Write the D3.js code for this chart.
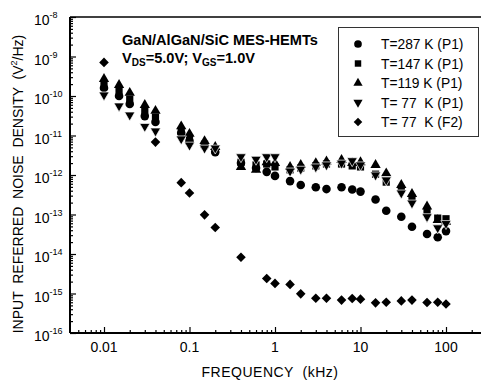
<!DOCTYPE html>
<html>
<head>
<meta charset="utf-8">
<script src="https://cdn.jsdelivr.net/npm/d3@7"></script>
<style>
  html, body { margin: 0; padding: 0; background: #fff; }
  svg { display: block; }
  text { font-family: "Liberation Sans", Arial, sans-serif; fill: #000; }
</style>
</head>
<body>
<svg id="chart" width="481" height="380"></svg>
<script>
// Frequencies (kHz) of the P1 measurements
const freqP1 = [0.01, 0.015, 0.02, 0.03, 0.04, 0.08, 0.1, 0.15, 0.2, 0.4, 0.6, 0.8, 1, 1.5, 2, 3, 4, 6, 8, 10, 15, 20, 30, 40, 60, 80, 100];
// Frequencies (kHz) of the F2 measurements
const freqF2 = [0.01, 0.04, 0.08, 0.1, 0.15, 0.2, 0.4, 0.8, 1, 1.5, 2, 3, 4, 6, 8, 10, 15, 20, 30, 40, 60, 80, 100];

// Input referred noise density (V^2/Hz)
const t287P1 = [1.6e-10, 1.0e-10, 6.3e-11, 3.1e-11, 2.2e-11, 1.15e-11, 7.2e-12, 5.4e-12, 3.8e-12, 2.0e-12, 1.5e-12, 1.2e-12, 9.5e-13, 7.0e-13, 5.6e-13, 4.9e-13, 4.4e-13, 4.9e-13, 4.3e-13, 3.8e-13, 2.4e-13, 1.25e-13, 8.8e-14, 4.9e-14, 3.2e-14, 2.65e-14, 3.8e-14];
const t147P1 = [2.0e-10, 1.35e-10, 8.3e-11, 4.2e-11, 2.9e-11, 1.3e-11, 8.7e-12, 6.0e-12, 4.1e-12, 2.1e-12, 1.8e-12, 1.9e-12, 1.6e-12, 1.35e-12, 1.5e-12, 1.7e-12, 1.9e-12, 1.9e-12, 1.7e-12, 1.6e-12, 1.05e-12, 6.6e-13, 4.4e-13, 2.6e-13, 1.15e-13, 8.1e-14, 7.8e-14];
const t119P1 = [2.7e-10, 1.9e-10, 1.2e-10, 5.9e-11, 4.2e-11, 1.7e-11, 1.1e-11, 7.2e-12, 5.1e-12, 1.6e-12, 1.35e-12, 2.1e-12, 2.0e-12, 1.6e-12, 1.8e-12, 2.0e-12, 2.2e-12, 2.4e-12, 2.0e-12, 2.1e-12, 1.8e-12, 1.1e-12, 5.6e-13, 3.3e-13, 1.6e-13, 7.2e-14, 6.5e-14];
const t77P1 = [1.06e-10, 5.6e-11, 3.3e-11, 1.7e-11, 1.3e-11, 8.2e-12, 5.7e-12, 4.8e-12, 4.8e-12, 2.9e-12, 2.5e-12, 2.9e-12, 2.9e-12, 1.26e-12, 1.4e-12, 1.6e-12, 1.8e-12, 2.0e-12, 2.3e-12, 1.8e-12, 1.0e-12, 7.5e-13, 3.5e-13, 1.95e-13, 8.8e-14, 4.6e-14, 5.9e-14];
const t77F2 = [7.1e-10, 6.8e-12, 6.4e-13, 3.5e-13, 9.8e-14, 4.7e-14, 8.3e-15, 2.4e-15, 1.8e-15, 1.7e-15, 9.8e-16, 7.6e-16, 7.6e-16, 6.8e-16, 7.5e-16, 7.2e-16, 5.8e-16, 6.0e-16, 6.5e-16, 6.8e-16, 5.9e-16, 6.0e-16, 5.4e-16];

const seriesNames = ["T=287 K (P1)", "T=147 K (P1)", "T=119 K (P1)", "T= 77  K (P1)", "T= 77  K (F2)"];

// Axis tick labels
const xTickValues = [0.01, 0.1, 1, 10, 100];
const xTickLabels = ["0.01", "0.1", "1", "10", "100"];
const yTickExponents = ["-8", "-9", "-10", "-11", "-12", "-13", "-14", "-15", "-16"];

const svg = d3.select("#chart");
const plotLeft = 70, plotRight = 481, plotTop = 17, plotBottom = 333;

const x = d3.scaleLog().domain([0.01, 100]).range([104, 446]);
const y = d3.scaleLog().domain([1e-8, 1e-16]).range([plotTop, plotBottom]);

// minor tick values
const xMinor = [];
for (let e = -3; e <= 2; e++) for (let m = 2; m <= 9; m++) {
  const v = m * Math.pow(10, e);
  if (x(v) > plotLeft + 1 && x(v) < plotRight) xMinor.push(v);
}
const yMajor = yTickExponents.map(e => Math.pow(10, +e));
const yMinor = [];
for (let e = -16; e < -8; e++) for (let m = 2; m <= 9; m++) yMinor.push(m * Math.pow(10, e));

// axes: ticks point into the plot
const gx = svg.append("g").attr("transform", `translate(0,${plotBottom})`);
gx.append("g").call(d3.axisBottom(x).tickValues(xMinor).tickSize(-3).tickFormat(""));
gx.append("g").call(d3.axisBottom(x).tickValues(xTickValues).tickSize(-6).tickFormat(""));
gx.selectAll(".domain").remove();
gx.selectAll("line").attr("stroke", "#000").attr("stroke-width", 1.2);

const gy = svg.append("g").attr("transform", `translate(${plotLeft},0)`);
gy.append("g").call(d3.axisLeft(y).tickValues(yMinor).tickSize(-3).tickFormat(""));
gy.append("g").call(d3.axisLeft(y).tickValues(yMajor).tickSize(-6).tickFormat(""));
gy.selectAll(".domain").remove();
gy.selectAll("line").attr("stroke", "#000").attr("stroke-width", 1.2);

// frame lines
svg.append("line").attr("x1", plotLeft).attr("x2", plotRight).attr("y1", plotBottom).attr("y2", plotBottom).attr("stroke", "#000").attr("stroke-width", 2);
svg.append("line").attr("x1", plotLeft).attr("x2", plotLeft).attr("y1", plotTop).attr("y2", plotBottom).attr("stroke", "#000").attr("stroke-width", 2);
svg.append("line").attr("x1", plotLeft).attr("x2", plotRight).attr("y1", plotTop).attr("y2", plotTop).attr("stroke", "#000").attr("stroke-width", 1.6);

// x tick labels
svg.selectAll(".xlab").data(xTickValues).join("text")
  .attr("x", d => x(d)).attr("y", 352)
  .attr("text-anchor", "middle").attr("font-size", 14)
  .text((d, i) => xTickLabels[i]);

// y tick labels: 10 with superscript exponent
const yl = svg.selectAll(".ylab").data(yMajor).join("text")
  .attr("x", 34).attr("y", d => y(d) + 8)
  .attr("font-size", 14);
yl.append("tspan").text("10");
yl.append("tspan").attr("font-size", 9).attr("dy", -7).text((d, i) => yTickExponents[i]);

// axis titles
svg.append("text").attr("x", 270).attr("y", 377).attr("text-anchor", "middle")
  .attr("font-size", 14).attr("letter-spacing", 0.5).style("white-space", "pre").text("FREQUENCY  (kHz)");
const yt = svg.append("text").attr("transform", "translate(23,184) rotate(-90)")
  .attr("text-anchor", "middle").attr("font-size", 14).style("white-space", "pre");
yt.append("tspan").text("INPUT  REFERRED  NOISE  DENSITY  (V");
yt.append("tspan").attr("font-size", 9).attr("dy", -6).text("2");
yt.append("tspan").attr("dy", 6).text("/Hz)");

// device annotation
svg.append("text").attr("x", 122).attr("y", 45).attr("font-size", 14.6).attr("font-weight", "bold")
  .text("GaN/AlGaN/SiC MES-HEMTs");
const cond = svg.append("text").attr("x", 122).attr("y", 63).attr("font-size", 14.6).attr("font-weight", "bold");
cond.append("tspan").text("V");
cond.append("tspan").attr("font-size", 10).attr("dy", 3).text("DS");
cond.append("tspan").attr("dy", -3).text("=5.0V; V");
cond.append("tspan").attr("font-size", 10).attr("dy", 3).text("GS");
cond.append("tspan").attr("dy", -3).text("=1.0V");

// markers
const shapes = [
  { type: d3.symbolCircle, size: 58, rot: 0 },
  { type: d3.symbolSquare, size: 52, rot: 0 },
  { type: d3.symbolTriangle, size: 46, rot: 0 },
  { type: d3.symbolTriangle, size: 46, rot: 180 },
  { type: d3.symbolSquare, size: 46, rot: 45 }
];
const seriesData = [
  freqP1.map((f, i) => [f, t287P1[i]]),
  freqP1.map((f, i) => [f, t147P1[i]]),
  freqP1.map((f, i) => [f, t119P1[i]]),
  freqP1.map((f, i) => [f, t77P1[i]]),
  freqF2.map((f, i) => [f, t77F2[i]])
];
seriesData.forEach((pts, s) => {
  const sh = shapes[s];
  svg.append("g").selectAll("path").data(pts).join("path")
    .attr("d", d3.symbol(sh.type, sh.size))
    .attr("transform", d => `translate(${x(d[0])},${y(d[1])}) rotate(${sh.rot})`)
    .attr("fill", "#000")
    .attr("stroke", s === 3 ? "#fff" : "none").attr("stroke-width", 0.7);
});

// legend
const lg = svg.append("g");
lg.append("rect").attr("x", 338.5).attr("y", 27.5).attr("width", 140).attr("height", 109)
  .attr("fill", "#fff").attr("stroke", "#333").attr("stroke-width", 1);
seriesNames.forEach((name, i) => {
  const cy = 44 + i * 19.5;
  const sh = shapes[i];
  lg.append("path").attr("d", d3.symbol(sh.type, sh.size * 0.8))
    .attr("transform", `translate(358,${cy}) rotate(${sh.rot})`).attr("fill", "#000");
  lg.append("text").attr("x", 381).attr("y", cy + 5).attr("font-size", 13.8)
    .style("white-space", "pre").text(name);
});
</script>
</body>
</html>
